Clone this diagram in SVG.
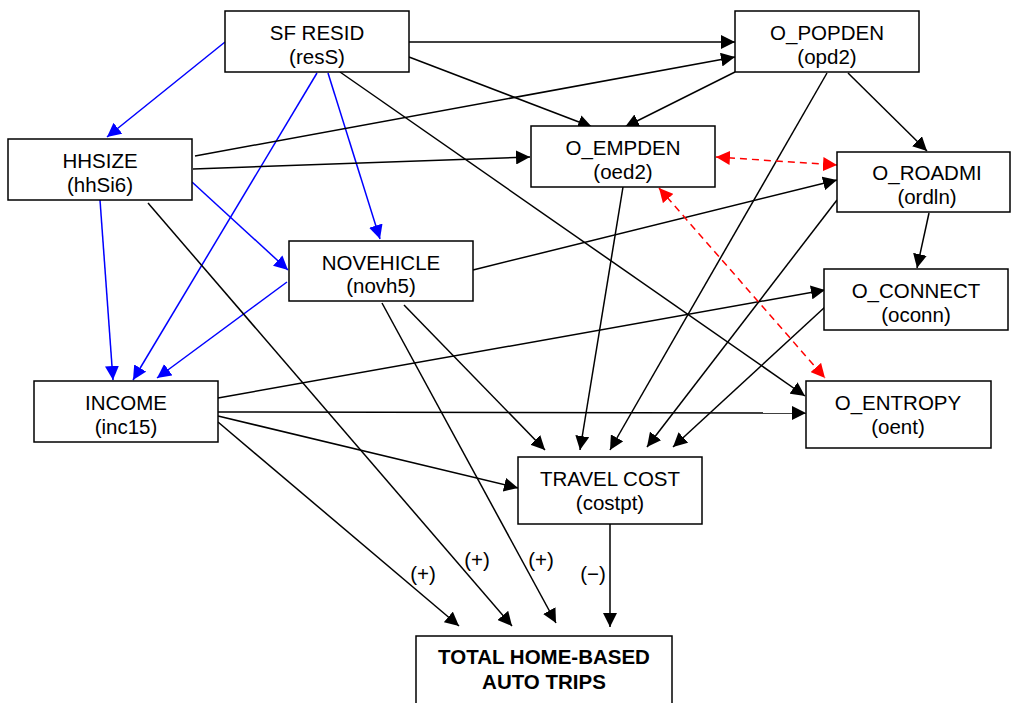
<svg xmlns="http://www.w3.org/2000/svg" width="1014" height="703" viewBox="0 0 1014 703">
  <style>
    .box { fill: #ffffff; stroke: #000000; stroke-width: 1.5; }
    .t { font-family: "Liberation Sans", Arial, sans-serif; font-size: 20.5px; fill: #000000; text-anchor: middle; }
    .tb { font-family: "Liberation Sans", Arial, sans-serif; font-size: 20.5px; font-weight: bold; fill: #000000; text-anchor: middle; }
    .k { stroke: #000000; stroke-width: 1.5; fill: none; marker-end: url(#ak); }
    .b { stroke: #0000ff; stroke-width: 1.5; fill: none; marker-end: url(#ab); }
    .r { stroke: #ff0000; stroke-width: 1.5; fill: none; stroke-dasharray: 7 5; marker-start: url(#ar); marker-end: url(#ar); }
  </style>
  <defs>
    <marker id="ak" markerUnits="userSpaceOnUse" markerWidth="15" markerHeight="14" refX="14" refY="7" orient="auto-start-reverse">
      <path d="M0,0 L14,7 L0,14 z" fill="#000000"/>
    </marker>
    <marker id="ab" markerUnits="userSpaceOnUse" markerWidth="15" markerHeight="14" refX="14" refY="7" orient="auto-start-reverse">
      <path d="M0,0 L14,7 L0,14 z" fill="#0000ff"/>
    </marker>
    <marker id="ar" markerUnits="userSpaceOnUse" markerWidth="15" markerHeight="14" refX="14" refY="7" orient="auto-start-reverse">
      <path d="M0,0 L14,7 L0,14 z" fill="#ff0000"/>
    </marker>
  </defs>
  <rect width="1014" height="703" fill="#ffffff"/>

  <g id="connectors">
    <!-- blue: household links -->
    <line class="b" x1="225" y1="42" x2="107" y2="137"/>
    <line class="b" x1="317" y1="73" x2="133" y2="380"/>
    <line class="b" x1="328" y1="73" x2="380" y2="239"/>
    <line class="b" x1="100" y1="200" x2="113" y2="380"/>
    <line class="b" x1="192" y1="182" x2="288" y2="270"/>
    <line class="b" x1="287" y1="282" x2="157" y2="378"/>

    <!-- black: direct effects -->
    <line class="k" x1="409" y1="42" x2="735" y2="42"/>
    <line class="k" x1="409" y1="57" x2="592" y2="127"/>
    <line class="k" x1="195" y1="156" x2="735" y2="57"/>
    <line class="k" x1="193" y1="169" x2="530" y2="157"/>
    <line class="k" x1="735" y1="72" x2="625" y2="127"/>
    <line class="k" x1="340" y1="72" x2="805" y2="396"/>
    <line class="k" x1="148" y1="203" x2="512" y2="626"/>
    <line class="k" x1="827" y1="73" x2="610" y2="450"/>
    <line class="k" x1="848" y1="73" x2="927" y2="151"/>
    <line class="k" x1="623" y1="187" x2="580" y2="450"/>
    <line class="k" x1="837" y1="200" x2="647" y2="447"/>
    <line class="k" x1="825" y1="307" x2="673" y2="447"/>
    <line class="k" x1="929" y1="213" x2="917" y2="268"/>
    <line class="k" x1="473" y1="270" x2="837" y2="180"/>
    <line class="k" x1="218" y1="398" x2="825" y2="290"/>
    <line class="k" x1="218" y1="412" x2="806" y2="413"/>
    <line class="k" x1="218" y1="416" x2="518" y2="488"/>
    <line class="k" x1="218" y1="422" x2="459" y2="626"/>
    <line class="k" x1="382" y1="303" x2="556" y2="623"/>
    <line class="k" x1="404" y1="305" x2="545" y2="450"/>
    <line class="k" x1="610" y1="524" x2="610" y2="627"/>

    <!-- red dashed: two-way associations -->
    <line class="r" x1="716" y1="157" x2="837" y2="165"/>
    <line class="r" x1="659" y1="188" x2="825" y2="378"/>
  </g>

  <g id="sign-labels">
    <text class="t" x="423" y="581">(+)</text>
    <text class="t" x="477" y="567">(+)</text>
    <text class="t" x="541" y="567">(+)</text>
    <text class="t" x="593" y="581">(−)</text>
  </g>

  <g id="sf-resid">
    <rect class="box" x="225" y="11" width="184" height="61"/>
    <text class="t" x="317" y="40">SF RESID</text>
    <text class="t" x="317" y="64">(resS)</text>
  </g>
  <g id="o-popden">
    <rect class="box" x="735" y="11" width="184" height="61"/>
    <text class="t" x="827" y="40">O_POPDEN</text>
    <text class="t" x="827" y="64">(opd2)</text>
  </g>
  <g id="hhsize">
    <rect class="box" x="8" y="139" width="184" height="61"/>
    <text class="t" x="100" y="168">HHSIZE</text>
    <text class="t" x="100" y="192">(hhSi6)</text>
  </g>
  <g id="o-empden">
    <rect class="box" x="531" y="126" width="184" height="61"/>
    <text class="t" x="623" y="155">O_EMPDEN</text>
    <text class="t" x="623" y="179">(oed2)</text>
  </g>
  <g id="o-roadmi">
    <rect class="box" x="837" y="152" width="173" height="60"/>
    <text class="t" x="927" y="180">O_ROADMI</text>
    <text class="t" x="927" y="204">(ordln)</text>
  </g>
  <g id="novehicle">
    <rect class="box" x="289" y="241" width="184" height="60"/>
    <text class="t" x="381" y="270">NOVEHICLE</text>
    <text class="t" x="381" y="293">(novh5)</text>
  </g>
  <g id="o-connect">
    <rect class="box" x="824" y="269" width="184" height="61"/>
    <text class="t" x="916" y="298">O_CONNECT</text>
    <text class="t" x="916" y="322">(oconn)</text>
  </g>
  <g id="income">
    <rect class="box" x="34" y="381" width="184" height="61"/>
    <text class="t" x="126" y="410">INCOME</text>
    <text class="t" x="126" y="434">(inc15)</text>
  </g>
  <g id="o-entropy">
    <rect class="box" x="806" y="381" width="185" height="67"/>
    <text class="t" x="898" y="410">O_ENTROPY</text>
    <text class="t" x="898" y="434">(oent)</text>
  </g>
  <g id="travel-cost">
    <rect class="box" x="518" y="457" width="184" height="67"/>
    <text class="t" x="610" y="486">TRAVEL COST</text>
    <text class="t" x="610" y="510">(costpt)</text>
  </g>
  <g id="total-trips">
    <rect class="box" x="416" y="636" width="256" height="80"/>
    <text class="tb" x="544" y="664">TOTAL HOME-BASED</text>
    <text class="tb" x="544" y="689">AUTO TRIPS</text>
  </g>
</svg>
